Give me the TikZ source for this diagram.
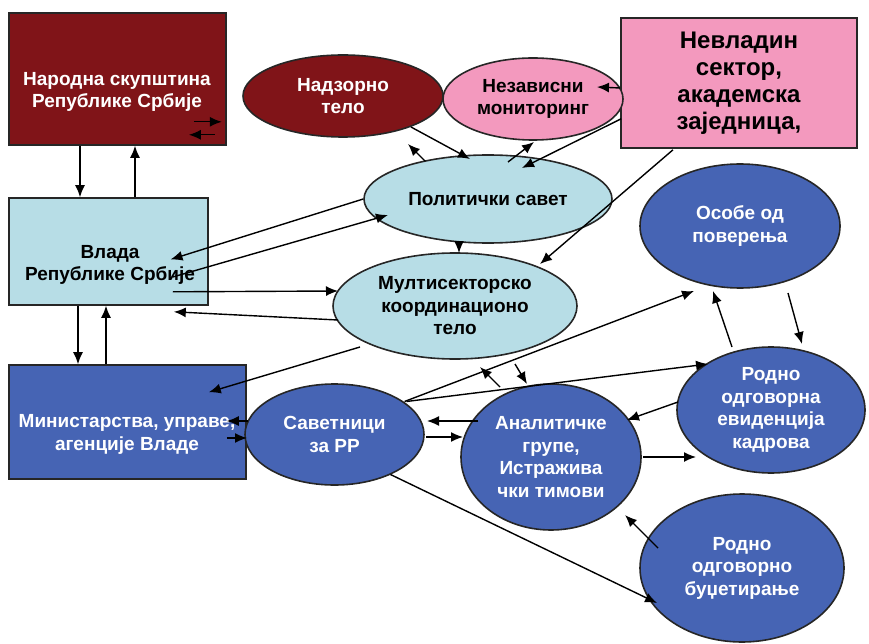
\documentclass[tikz,border=0pt]{standalone}
\usepackage{fontspec}
\setmainfont{Liberation Sans}
\usetikzlibrary{shapes.geometric,arrows.meta}
\definecolor{nsred}{RGB}{128,20,24}
\definecolor{ngopink}{RGB}{243,153,190}
\definecolor{govblue}{RGB}{183,221,230}
\definecolor{rpblue}{RGB}{70,100,180}
\tikzset{
  rbox/.style={draw=black!85,line width=1.6pt,inner sep=0pt},
  ell/.style={ellipse,draw=black!85,line width=1.6pt,inner sep=0pt,align=center,
    font=\bfseries\fontsize{19}{22.5}\selectfont},
  txt/.style={align=center,font=\bfseries\fontsize{19}{22.5}\selectfont},
}
\begin{document}
\begin{tikzpicture}[x=1pt,y=-1pt,>={Latex[length=12pt,width=10pt]},line width=1.4pt]
    \useasboundingbox (0,0) rectangle (869,644);
    % boxes
    \node[rbox,fill=nsred,minimum width=217pt,minimum height=132pt] (ns) at (117.5,79) {};
    \node[txt,text=white] (nstext) at (117,92) {Народна скупштина\\Републике Србије};
    \node[rbox,fill=govblue,minimum width=199pt,minimum height=107pt] (vl) at (108.5,251.5) {};
    \node[txt] (vltext) at (110,265) {Влада\\Републике Србије};
    \node[rbox,fill=rpblue,minimum width=237pt,minimum height=114pt] (mi) at (127.5,422) {};
    \node[txt,text=white] (mitext) at (127,434.5) {Министарства, управе,\\агенције Владе};
    \node[rbox,fill=ngopink,minimum width=236pt,minimum height=130pt,align=center,
        font=\bfseries\fontsize{24}{27}\selectfont] (nv) at (739,83) {Невладин\\сектор,\\академска\\заједница,};
    % ovals
    \node[ell,fill=nsred,text=white,minimum width=200pt,minimum height=82pt] (nt) at (343,96) {Надзорно\\тело};
    \node[ell,fill=ngopink,minimum width=180pt,minimum height=82pt] (nm) at (533,99) {Независни\\мониторинг};
    \node[ell,fill=govblue,minimum width=248pt,minimum height=88pt] (ps) at (488,199) {Политички савет};
    \node[ell,fill=govblue,minimum width=244pt,minimum height=106pt] (mt) at (455,306) {Мултисекторско\\координационо\\тело};
    \node[ell,fill=rpblue,text=white,minimum width=179pt,minimum height=101pt] (sv) at (334.5,434.5) {Саветници\\за РР};
    \node[ell,fill=rpblue,text=white,minimum width=180pt,minimum height=146pt] (an) at (551,457) {Аналитичке\\групе,\\Истражива\\чки тимови};
    \node[ell,fill=rpblue,text=white,minimum width=188pt,minimum height=126pt] (ev) at (771,410) {Родно\\одговорна\\евиденција\\кадрова};
    \node[ell,fill=rpblue,text=white,minimum width=204pt,minimum height=148pt] (bu) at (742,568) {Родно\\одговорно\\буџетирање};
    \node[ell,fill=rpblue,text=white,minimum width=200pt,minimum height=124pt] (os) at (740,226) {Особе од\\поверења};
    % assembly and government
    \draw[->] ([shift={(-37.5,0)}]ns.south) -- ([shift={(-28.5,0)}]vl.north);
    \draw[->] ([shift={(26.5,0)}]vl.north) -- ([shift={(17.5,0)}]ns.south);
    \draw[->] ([shift={(-33,-24)}]ns.south east) -- ([shift={(-5,-24)}]ns.south east);
    \draw[->] ([shift={(-12,-11)}]ns.south east) -- ([shift={(-38,-11)}]ns.south east);
    \draw[->] (ps.west) -- ([shift={(62,8)}]vl.center);
    \draw[->] ([shift={(-36,25.5)}]vl.east) -- ([shift={(-100,16)}]ps.center);
    \draw[->] ([shift={(-36,-14)}]vl.south east) -- ([shift={(-117,-15)}]mt.center);
    \draw[->] ([shift={(-117,14)}]mt.center) -- ([shift={(-35,6)}]vl.south east);
    \draw[->] ([shift={(-30.5,0)}]vl.south) -- ([shift={(-49.5,0)}]mi.north);
    \draw[->] ([shift={(-21.5,0)}]mi.north) -- ([shift={(-2.5,0)}]vl.south);
    \draw[->] ([shift={(-95,41)}]mt.center) -- ([shift={(-38,28)}]mi.north east);
    % advisers
    \draw[->] ([shift={(-87,-13.5)}]sv.center) -- ([shift={(-20,-1)}]mi.east);
    \draw[->] ([shift={(-20,16)}]mi.east) -- ([shift={(-87.5,3.5)}]sv.center);
    \draw[->] ([shift={(-73,-36)}]an.center) -- ([shift={(92.5,-13.5)}]sv.center);
    \draw[->] ([shift={(91.5,2.5)}]sv.center) -- ([shift={(-88,-20)}]an.center);
    \draw[->] ([shift={(70,-33)}]sv.center) -- ([shift={(-46,65)}]os.center);
    \draw[->] ([shift={(72,-33)}]sv.center) -- ([shift={(-63,-46)}]ev.center);
    \draw[->] ([shift={(56,40)}]sv.center) -- ([shift={(-85,35)}]bu.center);
    % analysts
    \draw[->] ([shift={(-51,-70)}]an.center) -- ([shift={(25,61)}]mt.center);
    \draw[->] ([shift={(60,58)}]mt.center) -- ([shift={(-24,-73)}]an.center);
    \draw[->] ([shift={(-93,-8)}]ev.center) -- ([shift={(76,-37)}]an.center);
    \draw[->] ([shift={(92,0)}]an.center) -- ([shift={(-75,47)}]ev.center);
    \draw[->] ([shift={(-84,-20)}]bu.center) -- ([shift={(74,58)}]an.center);
    \draw[->] ([shift={(-39,-63)}]ev.center) -- ([shift={(-27,65)}]os.center);
    \draw[->] ([shift={(48,67)}]os.center) -- ([shift={(31,-66)}]ev.center);
    % ngo and council
    \draw[->] ([shift={(-66,1)}]nv.south) -- ([shift={(85,-42)}]mt.center);
    \draw[->] ([shift={(0,5)}]nv.west) -- ([shift={(64,-12)}]nm.center);
    \draw[->] ([shift={(1,-30)}]nv.south west) -- ([shift={(34,-31)}]ps.center);
    \draw[->] ([shift={(20,-37)}]ps.center) -- ([shift={(1,43)}]nm.center);
    \draw[->] ([shift={(68,31)}]nt.center) -- ([shift={(-18,-40)}]ps.center);
    \draw[->] ([shift={(-63,-38)}]ps.center) -- ([shift={(65,48)}]nt.center);
    \draw[->] ([shift={(-29,42)}]ps.center) -- ([shift={(4,-53)}]mt.center);
\end{tikzpicture}
\end{document}
